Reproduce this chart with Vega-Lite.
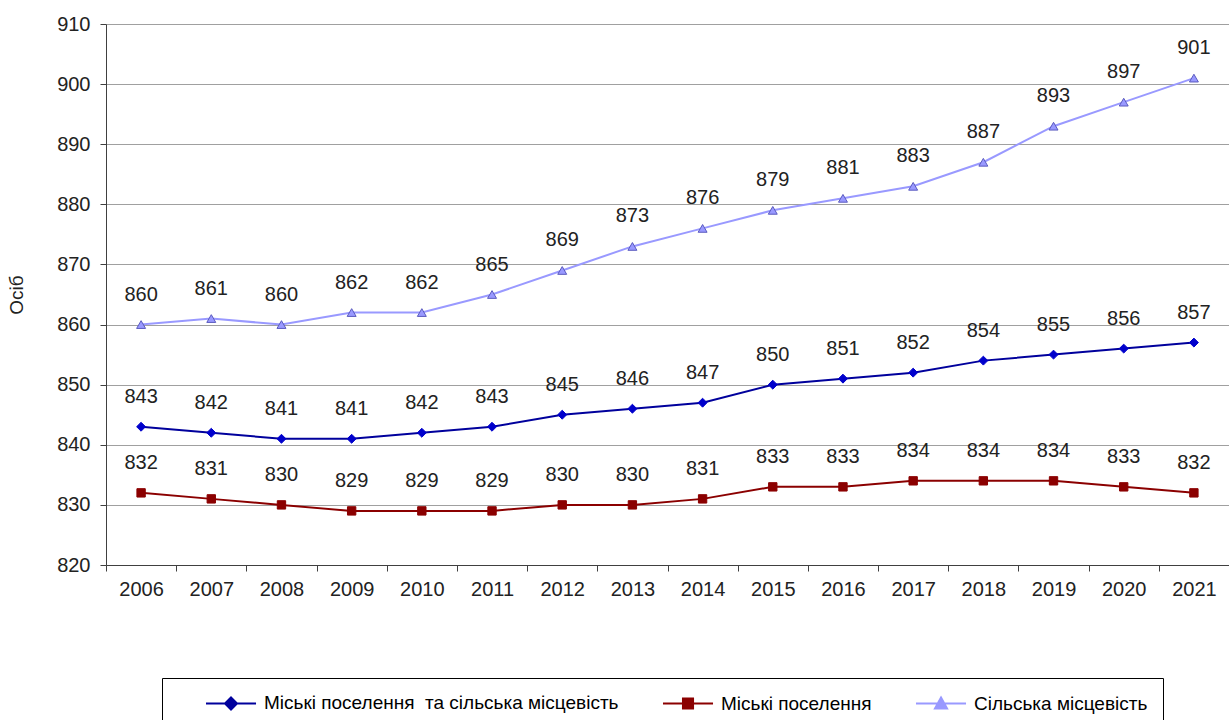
{
  "$schema": "https://vega.github.io/schema/vega-lite/v6.json",
  "width": 1123,
  "height": 541,
  "autosize": {"type": "none"},
  "padding": {"left": 106, "top": 24, "right": 0, "bottom": 155},
  "background": "white",
  "config": {"view": {"stroke": null}, "font": "Liberation Sans"},
  "data": {
    "values": [
      {"year": "2006", "series": "Міські поселення  та сільська місцевість", "value": 843},
      {"year": "2007", "series": "Міські поселення  та сільська місцевість", "value": 842},
      {"year": "2008", "series": "Міські поселення  та сільська місцевість", "value": 841},
      {"year": "2009", "series": "Міські поселення  та сільська місцевість", "value": 841},
      {"year": "2010", "series": "Міські поселення  та сільська місцевість", "value": 842},
      {"year": "2011", "series": "Міські поселення  та сільська місцевість", "value": 843},
      {"year": "2012", "series": "Міські поселення  та сільська місцевість", "value": 845},
      {"year": "2013", "series": "Міські поселення  та сільська місцевість", "value": 846},
      {"year": "2014", "series": "Міські поселення  та сільська місцевість", "value": 847},
      {"year": "2015", "series": "Міські поселення  та сільська місцевість", "value": 850},
      {"year": "2016", "series": "Міські поселення  та сільська місцевість", "value": 851},
      {"year": "2017", "series": "Міські поселення  та сільська місцевість", "value": 852},
      {"year": "2018", "series": "Міські поселення  та сільська місцевість", "value": 854},
      {"year": "2019", "series": "Міські поселення  та сільська місцевість", "value": 855},
      {"year": "2020", "series": "Міські поселення  та сільська місцевість", "value": 856},
      {"year": "2021", "series": "Міські поселення  та сільська місцевість", "value": 857},
      {"year": "2006", "series": "Міські поселення", "value": 832},
      {"year": "2007", "series": "Міські поселення", "value": 831},
      {"year": "2008", "series": "Міські поселення", "value": 830},
      {"year": "2009", "series": "Міські поселення", "value": 829},
      {"year": "2010", "series": "Міські поселення", "value": 829},
      {"year": "2011", "series": "Міські поселення", "value": 829},
      {"year": "2012", "series": "Міські поселення", "value": 830},
      {"year": "2013", "series": "Міські поселення", "value": 830},
      {"year": "2014", "series": "Міські поселення", "value": 831},
      {"year": "2015", "series": "Міські поселення", "value": 833},
      {"year": "2016", "series": "Міські поселення", "value": 833},
      {"year": "2017", "series": "Міські поселення", "value": 834},
      {"year": "2018", "series": "Міські поселення", "value": 834},
      {"year": "2019", "series": "Міські поселення", "value": 834},
      {"year": "2020", "series": "Міські поселення", "value": 833},
      {"year": "2021", "series": "Міські поселення", "value": 832},
      {"year": "2006", "series": "Сільська місцевість", "value": 860},
      {"year": "2007", "series": "Сільська місцевість", "value": 861},
      {"year": "2008", "series": "Сільська місцевість", "value": 860},
      {"year": "2009", "series": "Сільська місцевість", "value": 862},
      {"year": "2010", "series": "Сільська місцевість", "value": 862},
      {"year": "2011", "series": "Сільська місцевість", "value": 865},
      {"year": "2012", "series": "Сільська місцевість", "value": 869},
      {"year": "2013", "series": "Сільська місцевість", "value": 873},
      {"year": "2014", "series": "Сільська місцевість", "value": 876},
      {"year": "2015", "series": "Сільська місцевість", "value": 879},
      {"year": "2016", "series": "Сільська місцевість", "value": 881},
      {"year": "2017", "series": "Сільська місцевість", "value": 883},
      {"year": "2018", "series": "Сільська місцевість", "value": 887},
      {"year": "2019", "series": "Сільська місцевість", "value": 893},
      {"year": "2020", "series": "Сільська місцевість", "value": 897},
      {"year": "2021", "series": "Сільська місцевість", "value": 901}
    ]
  },
  "encoding": {
    "x": {
      "field": "year",
      "type": "ordinal",
      "scale": {"type": "band", "paddingInner": 0, "paddingOuter": 0},
      "axis": {
        "title": null,
        "labelAngle": 0,
        "tickBand": "extent",
        "grid": false,
        "domainColor": "#404040",
        "tickColor": "#404040",
        "tickSize": 6,
        "labelFontSize": 20,
        "labelPadding": 8,
        "labelColor": "#222222"
      }
    },
    "y": {
      "field": "value",
      "type": "quantitative",
      "scale": {"domain": [820, 910], "nice": false, "zero": false},
      "axis": {
        "title": "Осіб",
        "values": [820, 830, 840, 850, 860, 870, 880, 890, 900, 910],
        "grid": true,
        "gridColor": "#a0a0a0",
        "gridWidth": 1,
        "domainColor": "#404040",
        "tickColor": "#404040",
        "tickSize": 6,
        "labelFontSize": 20,
        "labelColor": "#222222",
        "labelPadding": 10,
        "titleFontSize": 19,
        "titleFontWeight": "normal",
        "titleColor": "#222222",
        "titlePadding": 30
      }
    }
  },
  "layer": [
    {
      "mark": {"type": "line", "strokeWidth": 2},
      "encoding": {
        "color": {
          "field": "series",
          "type": "nominal",
          "scale": {
            "domain": ["Міські поселення  та сільська місцевість", "Міські поселення", "Сільська місцевість"],
            "range": ["#00009C", "#8B0000", "#9999FF"]
          },
          "legend": {
            "orient": "none",
            "legendX": 56,
            "legendY": 654,
            "direction": "horizontal",
            "columns": 3,
            "title": null,
            "padding": 15,
            "strokeColor": "#000000",
            "fillColor": "#ffffff",
            "labelFontSize": 19,
            "labelFont": "Liberation Sans",
            "labelColor": "#000000",
            "labelLimit": 1000,
            "symbolSize": 324,
            "labelOffset": 67,
            "columnPadding": 15,
            "labelExpr": "datum.label === 'Сільська місцевість' ? datum.label + '\u00a0\u00a0\u00a0\u00a0' : replace(datum.label, '  ', ' \u00a0')",
            "encode": {
              "symbols": {
                "update": {
                  "shape": {"signal": "datum.value === 'Міські поселення' ? 'M2.11,0H7.67M4.33,-0.56H5.45V0.56H4.33Z' : (datum.value === 'Сільська місцевість' ? 'M2.11,0H7.67M4.89,-0.67L5.56,0.56L4.22,0.56Z' : 'M2.11,0H7.67M4.89,-0.67L5.56,0L4.89,0.67L4.22,0Z')"},
                  "fill": {"scale": "color", "field": "value"},
                  "stroke": {"scale": "color", "field": "value"},
                  "strokeWidth": {"value": 2},
                  "opacity": {"value": 1}
                }
              }
            }
          }
        }
      }
    },
    {
      "transform": [{"filter": "datum.series === 'Міські поселення  та сільська місцевість'"}],
      "mark": {"type": "point", "shape": "diamond", "filled": true, "opacity": 1, "size": 80, "fill": "#0000CC", "stroke": "#0000CC", "strokeWidth": 1}
    },
    {
      "transform": [{"filter": "datum.series === 'Міські поселення'"}],
      "mark": {"type": "point", "shape": "square", "filled": true, "opacity": 1, "size": 70, "fill": "#8B0000", "stroke": "#8B0000", "strokeWidth": 1}
    },
    {
      "transform": [{"filter": "datum.series === 'Сільська місцевість'"}],
      "mark": {"type": "point", "shape": "triangle-up", "filled": true, "opacity": 1, "size": 80, "fill": "#9999FF", "stroke": "#5A5ABF", "strokeWidth": 1}
    },
    {
      "mark": {"type": "text", "dy": -30, "fontSize": 20, "color": "#222222", "font": "Liberation Sans"},
      "encoding": {
        "text": {"field": "value", "type": "quantitative"}
      }
    }
  ]
}
